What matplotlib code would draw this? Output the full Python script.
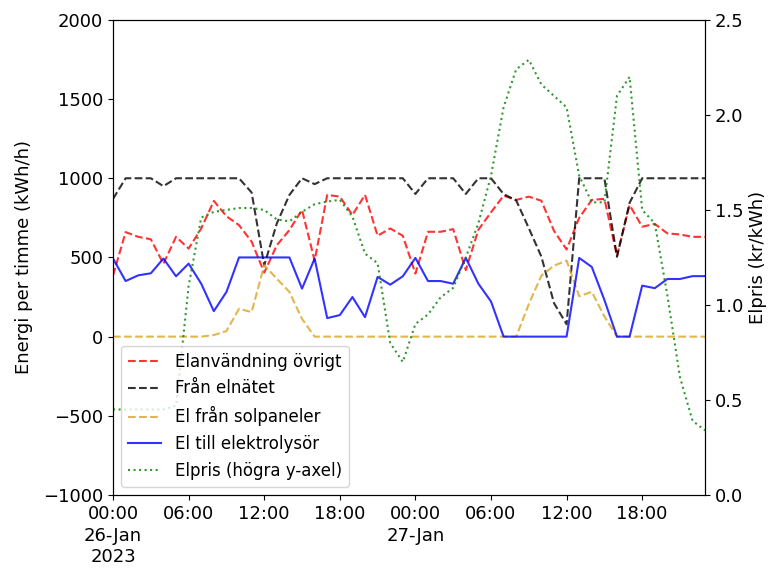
import matplotlib
matplotlib.use("Agg")
import matplotlib.pyplot as plt
import matplotlib.dates as mdates
from matplotlib.ticker import NullLocator
import pandas as pd

# Hourly timestamps, 26-27 Jan 2023
timestamps = pd.date_range("2023-01-26 00:00", periods=48, freq="h")

# Energy flows per hour (kWh/h)
other_use = [387, 660, 630, 615, 460, 630, 556, 683, 857, 760,
             704, 600, 404, 577, 673, 800, 480, 895, 884, 768,
             895, 637, 683, 637, 398, 662, 662, 679, 420, 675,
             785, 890, 863, 884, 858, 668, 550, 750, 863, 870,
             510, 831, 694, 712, 652, 645, 630, 630]
from_grid = [870, 1000, 1000, 1000, 950, 1000, 1000, 1000, 1000, 1000,
             1000, 910, 450, 715, 895, 1000, 963, 1000, 1000, 1000,
             1000, 1000, 1000, 1000, 901, 1000, 1000, 1000, 901, 1000,
             1000, 900, 860, 685, 505, 212, 78, 1000, 1000, 1000,
             504, 845, 1000, 1000, 1000, 1000, 1000, 1000]
solar = [0, 0, 0, 0, 0, 0, 0, 0, 10, 35,
         176, 155, 451, 366, 282, 112, 0, 0, 0, 0,
         0, 0, 0, 0, 0, 0, 0, 0, 0, 0,
         0, 0, 0, 205, 385, 448, 480, 255, 283, 128,
         0, 0, 0, 0, 0, 0, 0, 0]
electrolysis = [493, 351, 387, 400, 493, 381, 461, 334, 161, 282,
                500, 500, 500, 500, 500, 303, 493, 117, 136, 250,
                123, 377, 328, 381, 497, 351, 351, 334, 497, 334,
                222, 0, 0, 0, 0, 0, 0, 497, 440, 232,
                0, 0, 322, 306, 364, 364, 382, 382]

# Electricity price (kr/kWh)
price = [0.45, 0.45, 0.45, 0.45, 0.45, 0.47, 1.10, 1.46, 1.49, 1.50,
         1.51, 1.51, 1.50, 1.45, 1.44, 1.49, 1.53, 1.544, 1.553, 1.465,
         1.27, 1.22, 0.80, 0.70, 0.90, 0.95, 1.04, 1.09, 1.25, 1.43,
         1.68, 2.04, 2.24, 2.29, 2.16, 2.10, 2.04, 1.68, 1.54, 1.54,
         2.10, 2.20, 1.50, 1.43, 1.05, 0.62, 0.39, 0.34]

tick_times = pd.date_range("2023-01-26 00:00", "2023-01-27 18:00", freq="6h")
tick_labels = ["00:00\n26-Jan\n2023", "06:00", "12:00", "18:00",
               "00:00\n27-Jan", "06:00", "12:00", "18:00"]

fs = 13
fig = plt.figure(figsize=(7.69, 5.68), dpi=100)
ax1 = fig.add_axes([0.147, 0.1285, 0.77, 0.8365])

ax1.plot(timestamps, other_use, "--", color="red", alpha=0.8, lw=1.5,
         label="Elanvändning övrigt")
ax1.plot(timestamps, from_grid, "--", color="black", alpha=0.8, lw=1.5,
         label="Från elnätet")
ax1.plot(timestamps, solar, "--", color="goldenrod", alpha=0.8, lw=1.5,
         label="El från solpaneler")
ax1.plot(timestamps, electrolysis, "-", color="blue", alpha=0.8, lw=1.5,
         label="El till elektrolysör")
ax1.set_ylim(-1000, 2000)
ax1.set_xlim(timestamps[0], timestamps[-1])
ax1.set_ylabel("Energi per timme (kWh/h)", fontsize=fs, labelpad=7.5)
ax1.tick_params(labelsize=fs)

ax2 = ax1.twinx()
ax2.plot(timestamps, price, ":", color="green", alpha=0.8, lw=1.5,
         label="Elpris (högra y-axel)")
ax2.set_ylim(0, 2.5)
ax2.set_ylabel("Elpris (kr/kWh)", fontsize=fs)
ax2.tick_params(labelsize=fs)

ax1.set_xticks(mdates.date2num(tick_times))
ax1.set_xticklabels(tick_labels, fontsize=fs, linespacing=1.27)
ax1.xaxis.set_minor_locator(NullLocator())

h1, l1 = ax1.get_legend_handles_labels()
h2, l2 = ax2.get_legend_handles_labels()
ax2.legend(h1 + h2, l1 + l2, loc="lower left", fontsize=12,
           labelspacing=0.53)

fig.savefig("out.png", dpi=100)
